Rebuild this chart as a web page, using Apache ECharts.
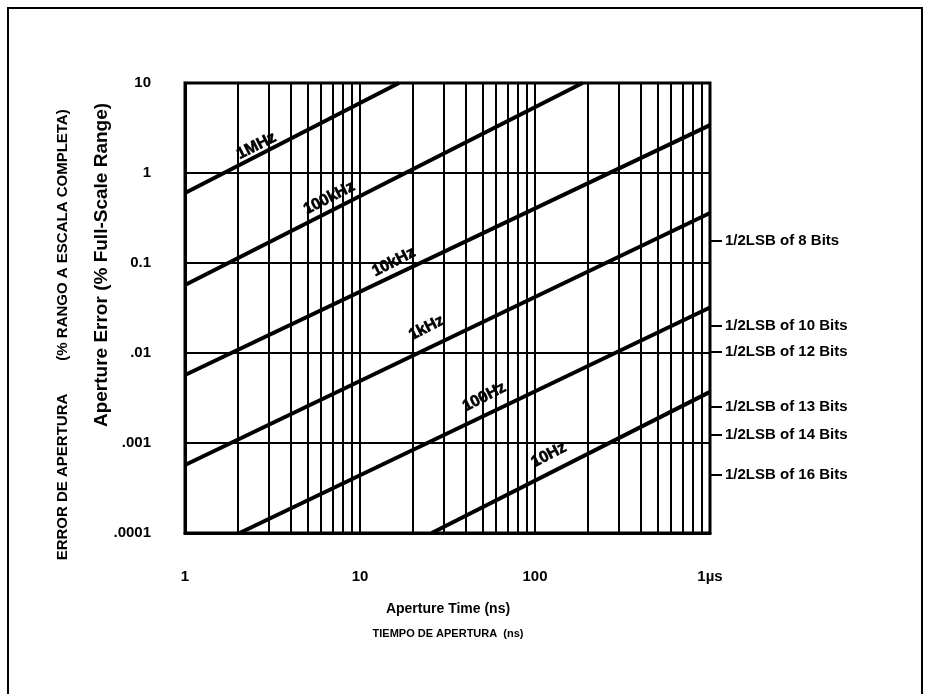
<!DOCTYPE html>
<html>
<head>
<meta charset="utf-8">
<script src="https://cdn.jsdelivr.net/npm/echarts@6/dist/echarts.min.js"></script>
<style>
html,body{margin:0;padding:0;background:#fff;}
#wrap{position:relative;width:933px;height:694px;overflow:hidden;}
#chart{width:933px;height:694px;}
#frame{position:absolute;left:7px;top:7px;width:912px;height:700px;border:2px solid #000;border-bottom:none;pointer-events:none;}
</style>
</head>
<body>
<div id="wrap"><div id="chart"></div><div id="frame"></div></div>
<script>
// ---- data ----
const freqNames     = ['1MHz', '100kHz', '10kHz', '1kHz', '100Hz', '10Hz'];
const lineStartTime = [1, 1, 1, 1, 2.05, 25.7];            // ns
const lineStartErr  = [0.60, 0.057, 0.0057, 0.00057, 0.0001, 0.0001]; // %
const lineEndTime   = [16.7, 187, 1000, 1000, 1000, 1000];  // ns
const lineEndErr    = [10, 10, 3.4, 0.36, 0.032, 0.0037];   // %

const labelTime = [2.56, 6.67, 15.6, 24.0, 51.3, 120];
const labelErr  = [2.0, 0.527, 0.1025, 0.019, 0.00324, 0.000736];

const xTickValues = [1, 10, 100, 1000];
const xTickLabels = ['1', '10', '100', '1µs'];
const yTickValues = [0.0001, 0.001, 0.01, 0.1, 1, 10];
const yTickLabels = ['.0001', '.001', '.01', '0.1', '1', '10'];

const lsbValues = [0.175, 0.020, 0.0103, 0.00251, 0.00123, 0.00044];
const lsbLabels = ['1/2LSB of 8 Bits', '1/2LSB of 10 Bits', '1/2LSB of 12 Bits',
                   '1/2LSB of 13 Bits', '1/2LSB of 14 Bits', '1/2LSB of 16 Bits'];

const minorMultipliers = [2, 3, 4, 5, 6, 7, 8, 9];
const minorDecades = [1, 10, 100];

// ---- helpers ----
const FONT = '"Liberation Sans", Arial, sans-serif';
function nearestLabel(v, vals, labels) {
  let best = 0, bd = Infinity;
  for (let i = 0; i < vals.length; i++) {
    const d = Math.abs(Math.log10(v) - Math.log10(vals[i]));
    if (d < bd) { bd = d; best = i; }
  }
  return bd < 0.05 ? labels[best] : '';
}
const minorGrid = [];
minorDecades.forEach(d => minorMultipliers.forEach(m => minorGrid.push(m * d)));

const chart = echarts.init(document.getElementById('chart'), null, {renderer: 'canvas'});

const series = [];
series.push({
  type: 'line', name: 'grid', z: 1, data: [[1, 0.0001]], symbol: 'none', silent: true,
  lineStyle: {width: 0},
  markLine: {
    silent: true, symbol: ['none', 'none'], label: {show: false}, animation: false,
    lineStyle: {color: '#000', width: 2, type: 'solid'},
    data: minorGrid.map(v => ({xAxis: v}))
  }
});
freqNames.forEach((n, i) => {
  series.push({
    type: 'line', name: n, z: 3, symbol: 'none', silent: true,
    lineStyle: {color: '#000', width: 4},
    data: [[lineStartTime[i], lineStartErr[i]], [lineEndTime[i], lineEndErr[i]]]
  });
});
series.push({
  type: 'scatter', name: 'labels', z: 5, symbolSize: 1, silent: true,
  itemStyle: {opacity: 0, color: '#000'},
  data: freqNames.map((n, i) => [labelTime[i], labelErr[i], n]),
  label: {
    show: true, position: 'inside', rotate: 27, opacity: 1,
    formatter: p => p.value[2],
    color: '#000', fontFamily: FONT, fontWeight: 'bold', fontSize: 16,
    textBorderColor: '#000', textBorderWidth: 0.6
  }
});

const option = {
  animation: false,
  backgroundColor: '#fff',
  grid: {left: 185, top: 83, width: 525, height: 450, show: true,
         borderColor: '#000', borderWidth: 3, containLabel: false},
  xAxis: {
    type: 'log', logBase: 10, min: 1, max: 1000,
    axisLine: {show: true, lineStyle: {color: '#000', width: 3}},
    axisTick: {show: false},
    axisLabel: {margin: 36, color: '#000', fontFamily: FONT, fontWeight: 'bold', fontSize: 15,
                formatter: v => nearestLabel(v, xTickValues, xTickLabels)},
    splitLine: {show: true, lineStyle: {color: '#000', width: 2}},
    minorTick: {show: false}, minorSplitLine: {show: false}
  },
  yAxis: [{
    type: 'log', logBase: 10, min: 0.0001, max: 10,
    axisLine: {show: true, lineStyle: {color: '#000', width: 3}},
    axisTick: {show: false},
    axisLabel: {margin: 34, color: '#000', fontFamily: FONT, fontWeight: 'bold', fontSize: 15,
                formatter: v => nearestLabel(v, yTickValues, yTickLabels)},
    splitLine: {show: true, lineStyle: {color: '#000', width: 2}}
  }, {
    type: 'log', logBase: 10, min: 0.0001, max: 10, position: 'right',
    axisLine: {show: false},
    splitLine: {show: false},
    axisTick: {show: true, inside: false, length: 12, customValues: lsbValues,
               lineStyle: {color: '#000', width: 2}},
    axisLabel: {show: true, margin: 15, customValues: lsbValues, color: '#000',
                fontFamily: FONT, fontWeight: 'bold', fontSize: 15,
                formatter: v => nearestLabel(v, lsbValues, lsbLabels)}
  }],
  graphic: [
    {type: 'text', x: 102, y: 265, rotation: Math.PI / 2, z: 10,
     style: {text: 'Aperture Error (% Full-Scale Range)', fill: '#000',
             font: 'bold 19px ' + FONT, align: 'center', verticalAlign: 'middle'}},
    {type: 'text', x: 63, y: 235, rotation: Math.PI / 2, z: 10,
     style: {text: '(% RANGO A ESCALA COMPLETA)', fill: '#000',
             font: 'bold 15px ' + FONT, align: 'center', verticalAlign: 'middle'}},
    {type: 'text', x: 63, y: 477, rotation: Math.PI / 2, z: 10,
     style: {text: 'ERROR DE APERTURA', fill: '#000',
             font: 'bold 15px ' + FONT, align: 'center', verticalAlign: 'middle'}},
    {type: 'text', x: 448, y: 609, z: 10,
     style: {text: 'Aperture Time (ns)', fill: '#000', font: 'bold 14px ' + FONT,
             align: 'center', verticalAlign: 'middle'}},
    {type: 'text', x: 448, y: 634, z: 10,
     style: {text: 'TIEMPO DE APERTURA  (ns)', fill: '#000', font: 'bold 11px ' + FONT,
             align: 'center', verticalAlign: 'middle'}}
  ],
  series: series
};
chart.setOption(option);
</script>
</body>
</html>
